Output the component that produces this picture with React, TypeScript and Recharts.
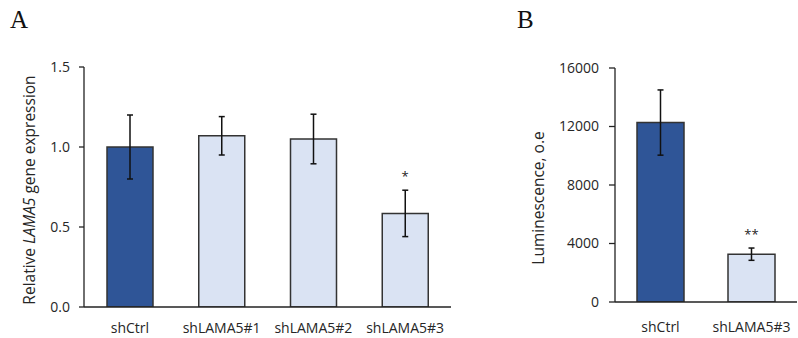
import React from 'react';
import { ComposedChart, Bar, XAxis, YAxis, ErrorBar, Scatter, Cell, Label } from 'recharts';

const catsA = ['shCtrl', 'shLAMA5#1', 'shLAMA5#2', 'shLAMA5#3'];
const meanA = [1.0, 1.07, 1.05, 0.585];
const errA = [0.2, 0.12, 0.155, 0.145];
const sigA = ['', '', '', '*'];
const ticksA = [0, 0.5, 1.0, 1.5];

const catsB = ['shCtrl', 'shLAMA5#3'];
const meanB = [12270, 3270];
const errB = [2230, 420];
const sigB = ['', '**'];
const ticksB = [0, 4000, 8000, 12000, 16000];

const DARK = '#2F5597';
const LIGHT = '#DAE3F3';
const colorsA = [DARK, LIGHT, LIGHT, LIGHT];
const colorsB = [DARK, LIGHT];

const FONT = '"Open Sans", "Noto Sans", sans-serif';

const dataA = catsA.map((c, i) => ({ name: c, mean: meanA[i], err: errA[i], top: meanA[i] + errA[i], sig: sigA[i] }));
const dataB = catsB.map((c, i) => ({ name: c, mean: meanB[i], err: errB[i], top: meanB[i] + errB[i], sig: sigB[i] }));

const SigShape = (p: any) => (
  <text x={p.cx} y={p.cy - 9} textAnchor="middle" fontSize={13} fontFamily={FONT} fill="#222">
    {p.payload.sig}
  </text>
);

const tickStyle = { fontSize: 14, fill: '#262626', fontFamily: FONT };

const YLabelA = (props: any) => {
  const vb = props.viewBox || {};
  const cx = 29;
  const cy = (vb.y ?? 67) + (vb.height ?? 240) / 2 + 3;
  return (
    <text x={cx} y={cy} transform={`rotate(-90 ${cx} ${cy})`} textAnchor="middle" dominantBaseline="central"
      fontSize={15.5} fontFamily={FONT} fill="#262626">
      <tspan>Relative </tspan>
      <tspan fontStyle="italic">LAMA5</tspan>
      <tspan> gene expression</tspan>
    </text>
  );
};

const YLabelB = (props: any) => {
  const vb = props.viewBox || {};
  const cx = 58;
  const cy = (vb.y ?? 68) + (vb.height ?? 234) / 2 + 13;
  return (
    <text x={cx} y={cy} transform={`rotate(-90 ${cx} ${cy})`} textAnchor="middle" dominantBaseline="central"
      fontSize={15.5} fontFamily={FONT} fill="#262626">
      Luminescence, o.e
    </text>
  );
};

export default function App() {
  return (
    <div style={{ position: 'absolute', left: 0, top: 0, width: 798, height: 338, background: '#fff' }}>
      <div style={{ position: 'absolute', left: 10, top: 6, fontFamily: '"Liberation Serif", "DejaVu Serif", serif', fontSize: 25, color: '#111' }}>A</div>
      <div style={{ position: 'absolute', left: 517, top: 6, fontFamily: '"Liberation Serif", "DejaVu Serif", serif', fontSize: 25, color: '#111' }}>B</div>

      <div style={{ position: 'absolute', left: 0, top: 0 }}>
        <ComposedChart width={480} height={338} data={dataA} margin={{ top: 67, right: 29, bottom: 1, left: 0 }} barCategoryGap="25%">
          <XAxis dataKey="name" height={30} tickLine={false} axisLine={{ stroke: '#222', strokeWidth: 1.3 }}
            tick={tickStyle} tickMargin={10} interval={0} />
          <YAxis width={84} domain={[0, 1.5]} ticks={ticksA} tickFormatter={(v: number) => v.toFixed(1)}
            axisLine={{ stroke: '#222', strokeWidth: 1.3 }} tickLine={{ stroke: '#222', strokeWidth: 1.3 }}
            tickSize={5} tickMargin={9} tick={tickStyle} allowDataOverflow>
            <Label content={<YLabelA />} />
          </YAxis>
          <Bar dataKey="mean" barSize={46} stroke="#333" strokeWidth={1.5} isAnimationActive={false}>
            {dataA.map((d, i) => <Cell key={d.name} fill={colorsA[i]} />)}
            <ErrorBar dataKey="err" width={3} stroke="#111" strokeWidth={1.5} direction="y" />
          </Bar>
          <Scatter dataKey="top" shape={<SigShape />} isAnimationActive={false} />
        </ComposedChart>
      </div>

      <div style={{ position: 'absolute', left: 480, top: 0 }}>
        <ComposedChart width={318} height={338} data={dataB} margin={{ top: 68, right: 1, bottom: 6, left: 0 }} barCategoryGap="25%">
          <XAxis dataKey="name" height={30} tickLine={false} axisLine={{ stroke: '#222', strokeWidth: 1.3 }}
            tick={tickStyle} tickMargin={14} interval={0} />
          <YAxis width={135} domain={[0, 16000]} ticks={ticksB}
            axisLine={{ stroke: '#222', strokeWidth: 1.3 }} tickLine={{ stroke: '#222', strokeWidth: 1.3 }}
            tickSize={6} tickMargin={10} tick={tickStyle} allowDataOverflow>
            <Label content={<YLabelB />} />
          </YAxis>
          <Bar dataKey="mean" barSize={47} stroke="#333" strokeWidth={1.5} isAnimationActive={false}>
            {dataB.map((d, i) => <Cell key={d.name} fill={colorsB[i]} />)}
            <ErrorBar dataKey="err" width={3} stroke="#111" strokeWidth={1.5} direction="y" />
          </Bar>
          <Scatter dataKey="top" shape={<SigShape />} isAnimationActive={false} />
        </ComposedChart>
      </div>
    </div>
  );
}
